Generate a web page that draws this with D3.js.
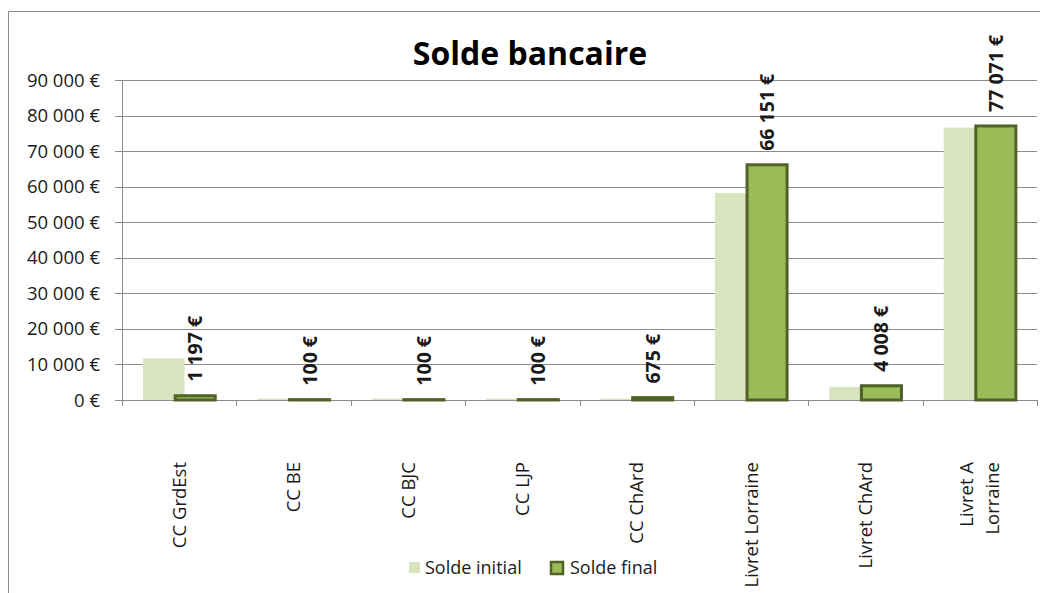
<!DOCTYPE html>
<html>
<head>
<meta charset="utf-8">
<script src="https://cdn.jsdelivr.net/npm/d3@7"></script>
<style>
  body { margin: 0; background: #fff; }
  svg { display: block; font-family: "Open Sans", Lato, sans-serif; }
</style>
</head>
<body>
<svg id="chart" width="1040" height="593"></svg>
<script>
// data
var categories = ['CC GrdEst', 'CC BE', 'CC BJC', 'CC LJP', 'CC ChArd', 'Livret Lorraine', 'Livret ChArd', 'Livret A|Lorraine'];
var soldeInitial = [11700, 400, 400, 400, 400, 58200, 3700, 76600];
var soldeFinal = [1197, 100, 100, 100, 675, 66151, 4008, 77071];
var yTicks = [0, 10000, 20000, 30000, 40000, 50000, 60000, 70000, 80000, 90000];
var seriesNames = ['Solde initial', 'Solde final'];

var colInit = '#d7e4bd', colFinal = '#9bbb59', colStroke = '#4f6228';

var svg = d3.select('#chart');
var pLeft = 122, pRight = 1037, pTop = 80, pBottom = 400;

var fmt = function(v) {
    return d3.format(',')(v).replace(/,/g, ' ') + ' €';
};

// outer chart border
svg.append('path')
    .attr('d', 'M8.5,593 V11.5 H1040')
    .attr('fill', 'none')
    .attr('stroke', '#8c8c8c')
    .attr('stroke-width', 1);

var x = d3.scaleBand().domain(d3.range(categories.length)).range([pLeft, pRight]);
var y = d3.scaleLinear().domain([0, 90000]).range([pBottom, pTop]);
var bw = x.bandwidth();

// gridlines
svg.selectAll('.grid').data(yTicks).enter().append('line')
    .attr('class', 'grid')
    .attr('x1', pLeft - 7).attr('x2', pRight)
    .attr('y1', function(d) { return Math.round(y(d)) + 0.5; })
    .attr('y2', function(d) { return Math.round(y(d)) + 0.5; })
    .attr('stroke', '#8c8c8c');

// y axis line
svg.append('line')
    .attr('x1', pLeft + 0.5).attr('x2', pLeft + 0.5)
    .attr('y1', pTop).attr('y2', pBottom + 6)
    .attr('stroke', '#8c8c8c');

// category ticks
svg.selectAll('.xtick').data(d3.range(1, categories.length + 1)).enter().append('line')
    .attr('class', 'xtick')
    .attr('x1', function(d) { return Math.round(pLeft + d * bw) + 0.5; })
    .attr('x2', function(d) { return Math.round(pLeft + d * bw) + 0.5; })
    .attr('y1', pBottom).attr('y2', pBottom + 6)
    .attr('stroke', '#8c8c8c');

// y labels
svg.selectAll('.ylab').data(yTicks).enter().append('text')
    .attr('class', 'ylab')
    .attr('x', 100)
    .attr('y', function(d) { return y(d) + 6.5; })
    .attr('text-anchor', 'end')
    .attr('font-size', 18.5)
    .attr('fill', '#1a1a1a')
    .text(function(d) { return fmt(d); });

// bars
svg.selectAll('.init').data(soldeInitial).enter().append('rect')
    .attr('class', 'init')
    .attr('x', function(d, i) { return x(i) + bw * 0.184; })
    .attr('width', bw * 0.363)
    .attr('y', function(d) { return y(d); })
    .attr('height', function(d) { return pBottom - y(d); })
    .attr('fill', colInit);

svg.selectAll('.fin').data(soldeFinal).enter().append('rect')
    .attr('class', 'fin')
    .attr('x', function(d, i) { return x(i) + bw * 0.465; })
    .attr('width', bw * 0.35)
    .attr('y', function(d) { return y(d); })
    .attr('height', function(d) { return pBottom - y(d); })
    .attr('fill', colFinal)
    .attr('stroke', colStroke)
    .attr('stroke-width', 3);

// value labels
svg.selectAll('.val').data(soldeFinal).enter().append('text')
    .attr('class', 'val')
    .attr('transform', function(d, i) {
        return 'translate(' + (x(i) + bw * 0.64) + ',' + (y(d) - 14) + ') rotate(-90)';
    })
    .attr('dy', '0.36em')
    .attr('font-size', 19.5)
    .attr('font-weight', 'bold')
    .attr('fill', '#1a1a1a')
    .text(function(d) { return fmt(d); });

// category labels
svg.selectAll('.cat').data(categories).enter().append('text')
    .attr('class', 'cat')
    .attr('transform', function(d, i) {
        return 'translate(' + (x(i) + bw / 2) + ',462) rotate(-90)';
    })
    .attr('text-anchor', 'end')
    .attr('font-size', 18.5)
    .attr('fill', '#1a1a1a')
    .each(function(d) {
        var lines = d.split('|');
        var t = d3.select(this);
        lines.forEach(function(l, k) {
            t.append('tspan')
                .attr('x', 0)
                .attr('dy', k === 0 ? (lines.length > 1 ? '-0.35em' : '0.36em') : '1.4em')
                .text(l);
        });
    });

// title
svg.append('text')
    .attr('x', 530).attr('y', 65)
    .attr('text-anchor', 'middle')
    .attr('font-size', 32)
    .attr('font-weight', 'bold')
    .attr('fill', '#000')
    .text('Solde bancaire');

// legend
var lg = svg.append('g');
var lx = [409, 551];
lg.selectAll('rect').data(seriesNames).enter().append('rect')
    .attr('x', function(d, i) { return lx[i]; })
    .attr('y', 562)
    .attr('width', function(d, i) { return i ? 12 : 11; })
    .attr('height', function(d, i) { return i ? 12 : 11; })
    .attr('fill', function(d, i) { return i ? colFinal : colInit; })
    .attr('stroke', function(d, i) { return i ? colStroke : 'none'; })
    .attr('stroke-width', 2.5);
lg.selectAll('text').data(seriesNames).enter().append('text')
    .attr('x', function(d, i) { return lx[i] + (i ? 19 : 16); })
    .attr('y', 574)
    .attr('font-size', 18)
    .attr('fill', '#1a1a1a')
    .text(function(d) { return d; });
</script>
</body>
</html>
